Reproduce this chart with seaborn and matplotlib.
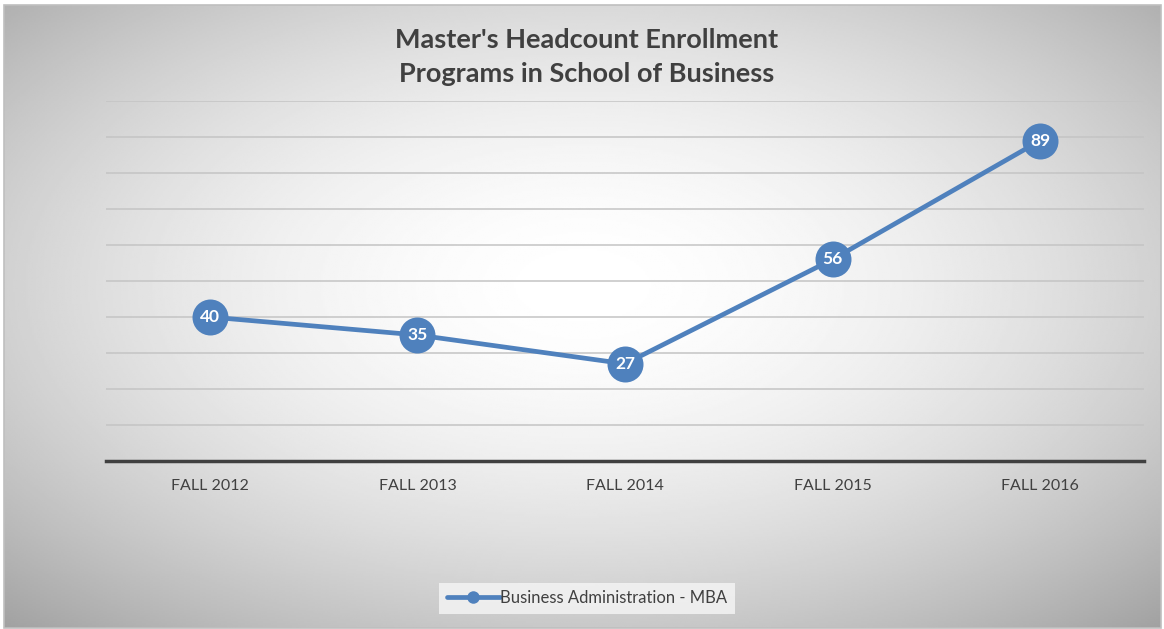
import numpy as np
import pandas as pd
import seaborn as sns
import matplotlib.pyplot as plt
from matplotlib.patches import Rectangle
from matplotlib.lines import Line2D

# chart data
terms = ['FALL 2012', 'FALL 2013', 'FALL 2014', 'FALL 2015', 'FALL 2016']
mba = [40, 35, 27, 56, 89]
series_name = 'Business Administration - MBA'

df = pd.DataFrame({'term': terms, 'headcount': mba})

sns.set_theme(style='white')
plt.rcParams['font.family'] = ['Lato', 'DejaVu Sans']

blue = '#4f81bd'
fig = plt.figure(figsize=(11.64, 6.29), dpi=100)

# radial gradient background inside the chart frame
bg = fig.add_axes([4 / 1164, 1 - 628 / 629, 1157 / 1164, 623 / 629], zorder=-5)
xx, yy = np.meshgrid(np.linspace(-1, 1, 600), np.linspace(-1, 1, 320))
r = np.sqrt(xx ** 2 + (yy + 0.1) ** 2)
shade = np.clip(1 - 0.18 * r ** 1.8, 0, 1)
bg.imshow(shade, cmap='gray', vmin=0, vmax=1, aspect='auto', extent=[0, 1, 0, 1])
bg.set_axis_off()
fig.patches.append(Rectangle((4 / 1164, 1 - 628 / 629), 1157 / 1164, 623 / 629,
                             transform=fig.transFigure, fill=False,
                             edgecolor='#bfbfbf', lw=1.2, zorder=10))

ax = fig.add_axes([106 / 1164, 1 - 461 / 629, 1038 / 1164, 360 / 629])
ax.patch.set_alpha(0)

sns.lineplot(data=df, x='term', y='headcount', ax=ax, color=blue, lw=3.4,
             sort=False, legend=False)
sns.scatterplot(data=df, x='term', y='headcount', ax=ax, color=blue, s=36 ** 2 / 1.93,
                linewidth=0, legend=False, zorder=4)

for i, v in enumerate(mba):
    ax.text(i, v, str(v), ha='center', va='center', color='white',
            fontsize=12.5, fontweight='bold', zorder=5)

ax.set_ylim(0, 100)
ax.set_xlim(-0.5, len(terms) - 0.5)
ax.set_yticks(np.arange(0, 101, 10))
ax.yaxis.grid(True, color='#c4c4c4', lw=1.1)
ax.set_axisbelow(True)
ax.tick_params(axis='y', left=False, labelleft=False)
ax.tick_params(axis='x', bottom=False, labelsize=11.5, labelcolor='#404040', pad=7)
ax.set_xlabel('')
ax.set_ylabel('')
for side in ['top', 'left', 'right']:
    ax.spines[side].set_visible(False)
ax.spines['bottom'].set_color('#404040')
ax.spines['bottom'].set_linewidth(2.5)

handle = Line2D([], [], color=blue, lw=3.4, marker='o', markersize=9, markeredgewidth=0)
leg = fig.legend([handle], [series_name], loc='center',
                 bbox_to_anchor=(587 / 1164, 1 - 598 / 629),
                 frameon=True, fontsize=12, handlelength=3.2, handletextpad=0.0,
                 borderpad=0.45, fancybox=False)
leg.get_frame().set_facecolor('#f6f6f6')
leg.get_frame().set_edgecolor('none')
for t in leg.get_texts():
    t.set_color('#404040')

fig.text(587 / 1164, 1 - 57 / 629, "Master's Headcount Enrollment\nPrograms in School of Business",
         ha='center', va='center', fontsize=19.5, fontweight='bold', color='#404040',
         linespacing=1.45)

fig.savefig('out.png', dpi=100)
